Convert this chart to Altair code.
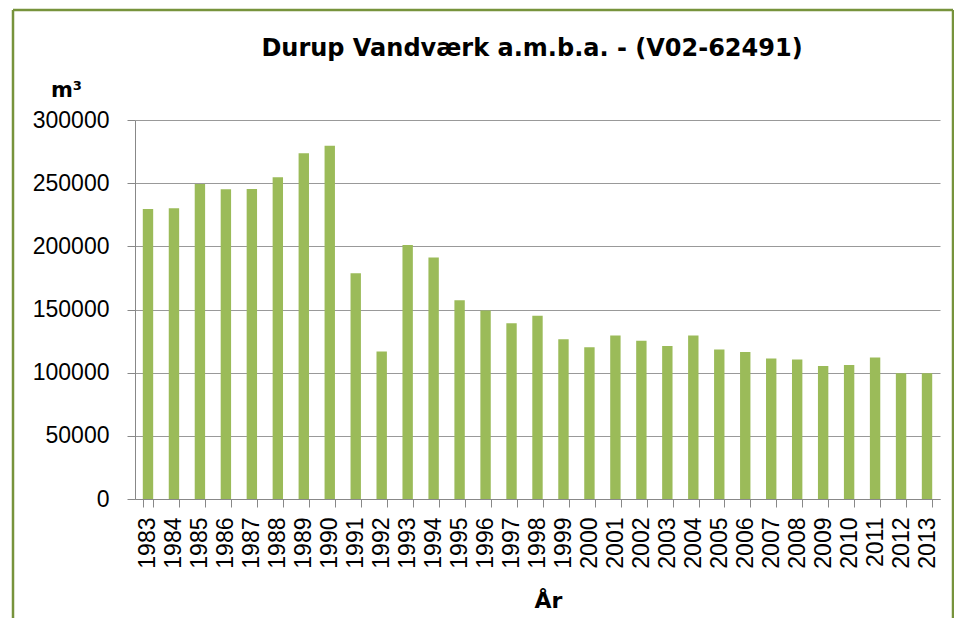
import altair as alt
import pandas as pd

years = [str(y) for y in range(1983, 2014)]
volumes = [229600, 230200, 249400, 245200, 245400, 254700, 273700, 279700,
           178700, 116700, 201000, 191100, 157400, 149200, 139200, 145000,
           126500, 120200, 129400, 125200, 121200, 129400, 118400, 116300,
           111300, 110500, 105200, 106000, 112100, 99500, 99500]
y_ticks = [0, 50000, 100000, 150000, 200000, 250000, 300000]
title_text = "Durup Vandværk a.m.b.a. - (V02-62491)"
y_title = "m³"
x_title = "År"

df = pd.DataFrame({"year": years, "volume": volumes})
one = pd.DataFrame({"k": [0]})

W, H = 805, 379
PAD = {"left": 127, "top": 112, "right": 14, "bottom": 119}

bars = alt.Chart(df).mark_bar(color="#9BBB59").encode(
    x=alt.X("year:N", sort=years,
            scale=alt.Scale(paddingInner=0.6, paddingOuter=0.3),
            axis=alt.Axis(title=x_title, labelAngle=-90, labelFont="Liberation Sans",
                          labelFontSize=23, labelColor="black", labelPadding=10,
                          tickBand="extent", tickSize=8, tickColor="#888888",
                          domainColor="#888888", titleFont="DejaVu Sans", titleFontSize=22,
                          titleFontWeight="bold", titleColor="black", titleX=413, titleY=101,
                          titleBaseline="middle", titleAlign="center", grid=False)),
    y=alt.Y("volume:Q", scale=alt.Scale(domain=[0, 300000], nice=False),
            axis=alt.Axis(values=y_ticks, format="d", title=y_title, titleAngle=0,
                          titleX=-69, titleY=-30, titleAlign="center", titleBaseline="middle",
                          titleFont="DejaVu Sans", titleFontSize=21, titleFontWeight="bold",
                          titleColor="black", labelFont="Liberation Sans", labelFontSize=23,
                          labelColor="black", labelPadding=18, tickSize=8, tickColor="#888888",
                          domainColor="#888888", gridColor="#999999", gridWidth=1.2,
                          labelFlush=False)),
)

title = alt.Chart(one).mark_text(text=title_text, font="DejaVu Sans", fontSize=24,
                                 fontWeight="bold", color="black", baseline="middle",
                                 align="center").encode(x=alt.value(397), y=alt.value(-71))

frame_color = "#77933C"
top_edge = alt.Chart(one).mark_rule(color=frame_color, strokeWidth=2.5).encode(
    x=alt.value(-122), x2=alt.value(818), y=alt.value(-110), y2=alt.value(-110))
left_edge = alt.Chart(one).mark_rule(color=frame_color, strokeWidth=2.5).encode(
    x=alt.value(-122), x2=alt.value(-122), y=alt.value(-110), y2=alt.value(H + 119))
right_edge = alt.Chart(one).mark_rule(color=frame_color, strokeWidth=2.5).encode(
    x=alt.value(818), x2=alt.value(818), y=alt.value(-110), y2=alt.value(H + 119))

chart = alt.layer(bars, title, top_edge, left_edge, right_edge).properties(
    width=W, height=H, autosize=alt.AutoSizeParams(type="none"), padding=PAD,
    background="white"
).configure_view(stroke=None)

chart.save("out.html", embed_options={"renderer": "svg", "actions": False})
